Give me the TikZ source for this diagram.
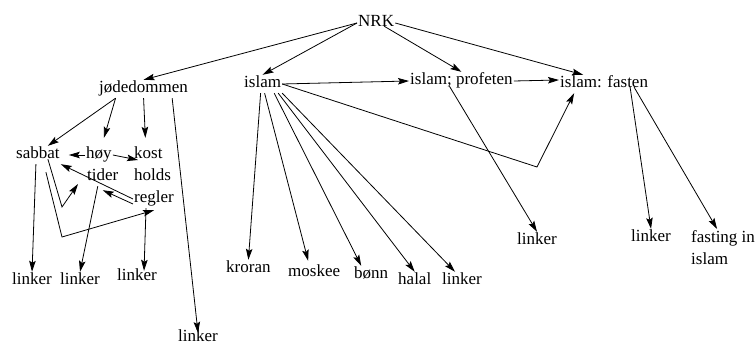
\documentclass[tikz,border=0pt]{standalone}
\usepackage{fontspec}
\setmainfont{Liberation Serif}
\usetikzlibrary{arrows.meta}

\begin{document}
\begin{tikzpicture}[x=1pt, y=-1pt, font=\fontsize{17}{22}\selectfont,
		lbl/.style={inner sep=1pt, anchor=base west, text height=12pt, text depth=4pt},
		pil/.style={-{Stealth[length=11pt, width=6.5pt, inset=2pt]}, line width=0.8pt}]
		\useasboundingbox (0, 0) rectangle (756, 347);

		\node[lbl] (nrk) at (357, 27) {NRK};
		\node[lbl] (jod) at (98, 93) {jødedommen};
		\node[lbl] (islam) at (243, 88) {islam};
		\node[lbl] (prof) at (409, 85) {islam; profeten};
		\node[lbl] (fast) at (559, 88) {islam: fasten};

		\node[lbl] (sabbat) at (15, 159) {sabbat};
		\node[lbl] (hoy) at (85, 159) {høy};
		\node[lbl] (tider) at (86, 181) {tider};
		\node[lbl] (kost) at (133, 159) {kost};
		\node[lbl] (holds) at (133, 181) {holds};
		\node[lbl] (regler) at (133, 203) {regler};

		\node[lbl] (lnkA) at (11, 285) {linker};
		\node[lbl] (lnkB) at (59, 285) {linker};
		\node[lbl] (lnkC) at (116, 281) {linker};
		\node[lbl] (lnkD) at (177, 342) {linker};
		\node[lbl] (kroran) at (225, 273) {kroran};
		\node[lbl] (moskee) at (287, 277) {moskee};
		\node[lbl] (bonn) at (353, 279) {bønn};
		\node[lbl] (halal) at (397, 285) {halal};
		\node[lbl] (lnkE) at (441, 285) {linker};
		\node[lbl] (lnkF) at (516, 245) {linker};
		\node[lbl] (lnkG) at (630, 242) {linker};
		\node[inner sep=1pt, anchor=north west, align=left] (fasting) at (690, 229) {fasting in\\islam};

		\coordinate (knekkA) at (62, 237);
		\coordinate (knekkB) at (62, 207);
		\coordinate (knekkI) at (537, 167);

		\draw[pil] (nrk.west) -- (jod.north);
		\draw[pil] (nrk.west) -- (islam.north);
		\draw[pil] ([xshift=8pt, yshift=6pt]nrk.south) -- (prof.north);
		\draw[pil] (nrk.east) -- ([xshift=-21pt]fast.north);

		\draw[pil] (islam.east) -- (prof.west);
		\draw[pil] (prof.east) -- ([yshift=4pt]fast.west);
		\draw[pil] (islam.east) -- (knekkI) -- ([xshift=-30pt]fast.south);
		\draw[pil] ([xshift=-2pt]islam.south) -- (kroran.north);
		\draw[pil] ([xshift=2pt]islam.south) -- ([xshift=-6pt, yshift=3pt]moskee.north);
		\draw[pil] ([xshift=-8pt]islam.south east) -- ([xshift=-10pt]bonn.north);
		\draw[pil] ([xshift=-4pt]islam.south east) -- (halal.north);
		\draw[pil] (islam.south east) -- ([xshift=-7pt]lnkE.north);
		\draw[pil] ([xshift=-12pt, yshift=4pt]prof.south) -- (lnkF.north);
		\draw[pil] ([xshift=26pt, yshift=6pt]fast.south) -- (lnkG.north);
		\draw[pil] ([xshift=30pt, yshift=6pt]fast.south) -- ([xshift=-6pt]fasting.north);

		\draw[pil] ([xshift=-28pt]jod.south) -- ([xshift=10pt]sabbat.north);
		\draw[pil] ([xshift=-28pt]jod.south) -- ([xshift=5pt, yshift=8pt]hoy.north);
		\draw[pil] (jod.south) -- ([xshift=-3pt, yshift=8pt]kost.north);
		\draw[pil] ([xshift=-17pt]jod.south east) -- ([yshift=-4pt]lnkD.north);

		\draw[pil] (hoy.west) -- ([xshift=8pt]sabbat.east);
		\draw[pil] (hoy.east) -- ([xshift=5pt, yshift=-5pt]kost.west);
		\draw[pil] (regler.west) -- (sabbat.south east);
		\draw[pil] ([yshift=-5pt]regler.west) -- ([yshift=-4pt]tider.south);
		\draw[pil] ([xshift=8pt, yshift=-8pt]sabbat.south) -- (knekkA) -- ([yshift=-2pt]regler.south);
		\draw[pil] ([xshift=10pt, yshift=5pt]sabbat.south) -- (knekkB) -- ([xshift=-8pt, yshift=-7pt]tider.west);
		\draw[pil] ([xshift=-2pt]sabbat.south) -- (lnkA.north);
		\draw[pil] ([xshift=-5pt]tider.south) -- (lnkB.north);
		\draw[pil] ([xshift=-8pt]regler.south) -- ([xshift=7pt, yshift=-3pt]lnkC.north);
	\end{tikzpicture}
\end{document}
